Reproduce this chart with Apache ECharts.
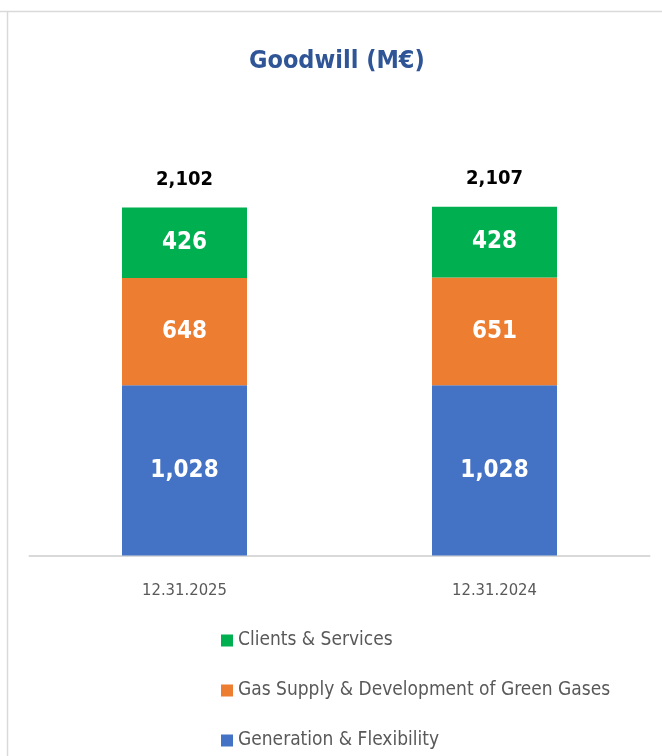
<!DOCTYPE html>
<html><head><meta charset="utf-8">
<script src="https://cdn.jsdelivr.net/npm/echarts@6/dist/echarts.min.js"></script>
<style>html,body{margin:0;padding:0;background:#fff}#c{width:662px;height:756px}</style>
</head><body><div id="c"></div>
<script>
const categories = ['12.31.2025', '12.31.2024'];
const generation = [1028, 1028];
const gasSupply = [648, 651];
const clients = [426, 428];
const totals = [2102, 2107];
const seriesNames = ['Clients & Services', 'Gas Supply & Development of Green Gases', 'Generation & Flexibility'];

const NARROW = '"DejaVu Sans Condensed", "Liberation Sans", sans-serif';
const BOLD = '"DejaVu Sans Condensed", "Liberation Sans", sans-serif';

const chart = echarts.init(document.getElementById('c'), null, {renderer: 'canvas'});
const inLabel = {show: true, position: 'inside', color: '#fff', fontSize: 24, fontWeight: 'bold', fontFamily: BOLD,
  formatter: p => p.value.toLocaleString('en-US')};
chart.setOption({
  animation: false,
  title: {text: 'Goodwill (M€)', left: 244, top: 44,
    textStyle: {color: '#2F5597', fontSize: 25, fontWeight: 'bold', fontFamily: BOLD}},
  grid: {left: 29.5, right: 12.5, top: 150, height: 405.5, containLabel: false},
  legend: {orient: 'vertical', left: 221, top: 631, padding: 0, height: 125, itemWidth: 12, itemHeight: 12, itemGap: 31,
    icon: 'rect', data: seriesNames,
    textStyle: {color: '#595959', fontSize: 19, fontFamily: NARROW}},
  xAxis: {type: 'category', data: categories,
    axisLine: {lineStyle: {color: '#d9d9d9', width: 2}}, axisTick: {show: false},
    axisLabel: {color: '#595959', fontSize: 16.5, fontFamily: NARROW, margin: 27}},
  yAxis: {type: 'value', min: 0, max: 2450, show: false, splitLine: {show: false}},
  series: [
    {name: 'Generation & Flexibility', type: 'bar', stack: 't', barWidth: 125, data: generation,
      itemStyle: {color: '#4472C4'}, label: inLabel},
    {name: 'Gas Supply & Development of Green Gases', type: 'bar', stack: 't', data: gasSupply,
      itemStyle: {color: '#ED7D31'}, label: inLabel},
    {name: 'Clients & Services', type: 'bar', stack: 't', data: clients,
      itemStyle: {color: '#00B050'}, label: inLabel},
    {name: 'Total', type: 'bar', data: totals, barWidth: 125, barGap: '-100%', z: 0,
      itemStyle: {color: 'rgba(0,0,0,0)'}, silent: true,
      label: {show: true, position: 'top', distance: 18, color: '#000', fontSize: 20, fontWeight: 'bold', fontFamily: BOLD,
        formatter: p => p.value.toLocaleString('en-US')}}
  ],
  graphic: [
    {type: 'line', shape: {x1: 0, y1: 11.5, x2: 662, y2: 11.5}, style: {stroke: '#d9d9d9', lineWidth: 1.5}},
    {type: 'line', shape: {x1: 7.5, y1: 11, x2: 7.5, y2: 756}, style: {stroke: '#d9d9d9', lineWidth: 1.5}}
  ]
});
</script></body></html>
